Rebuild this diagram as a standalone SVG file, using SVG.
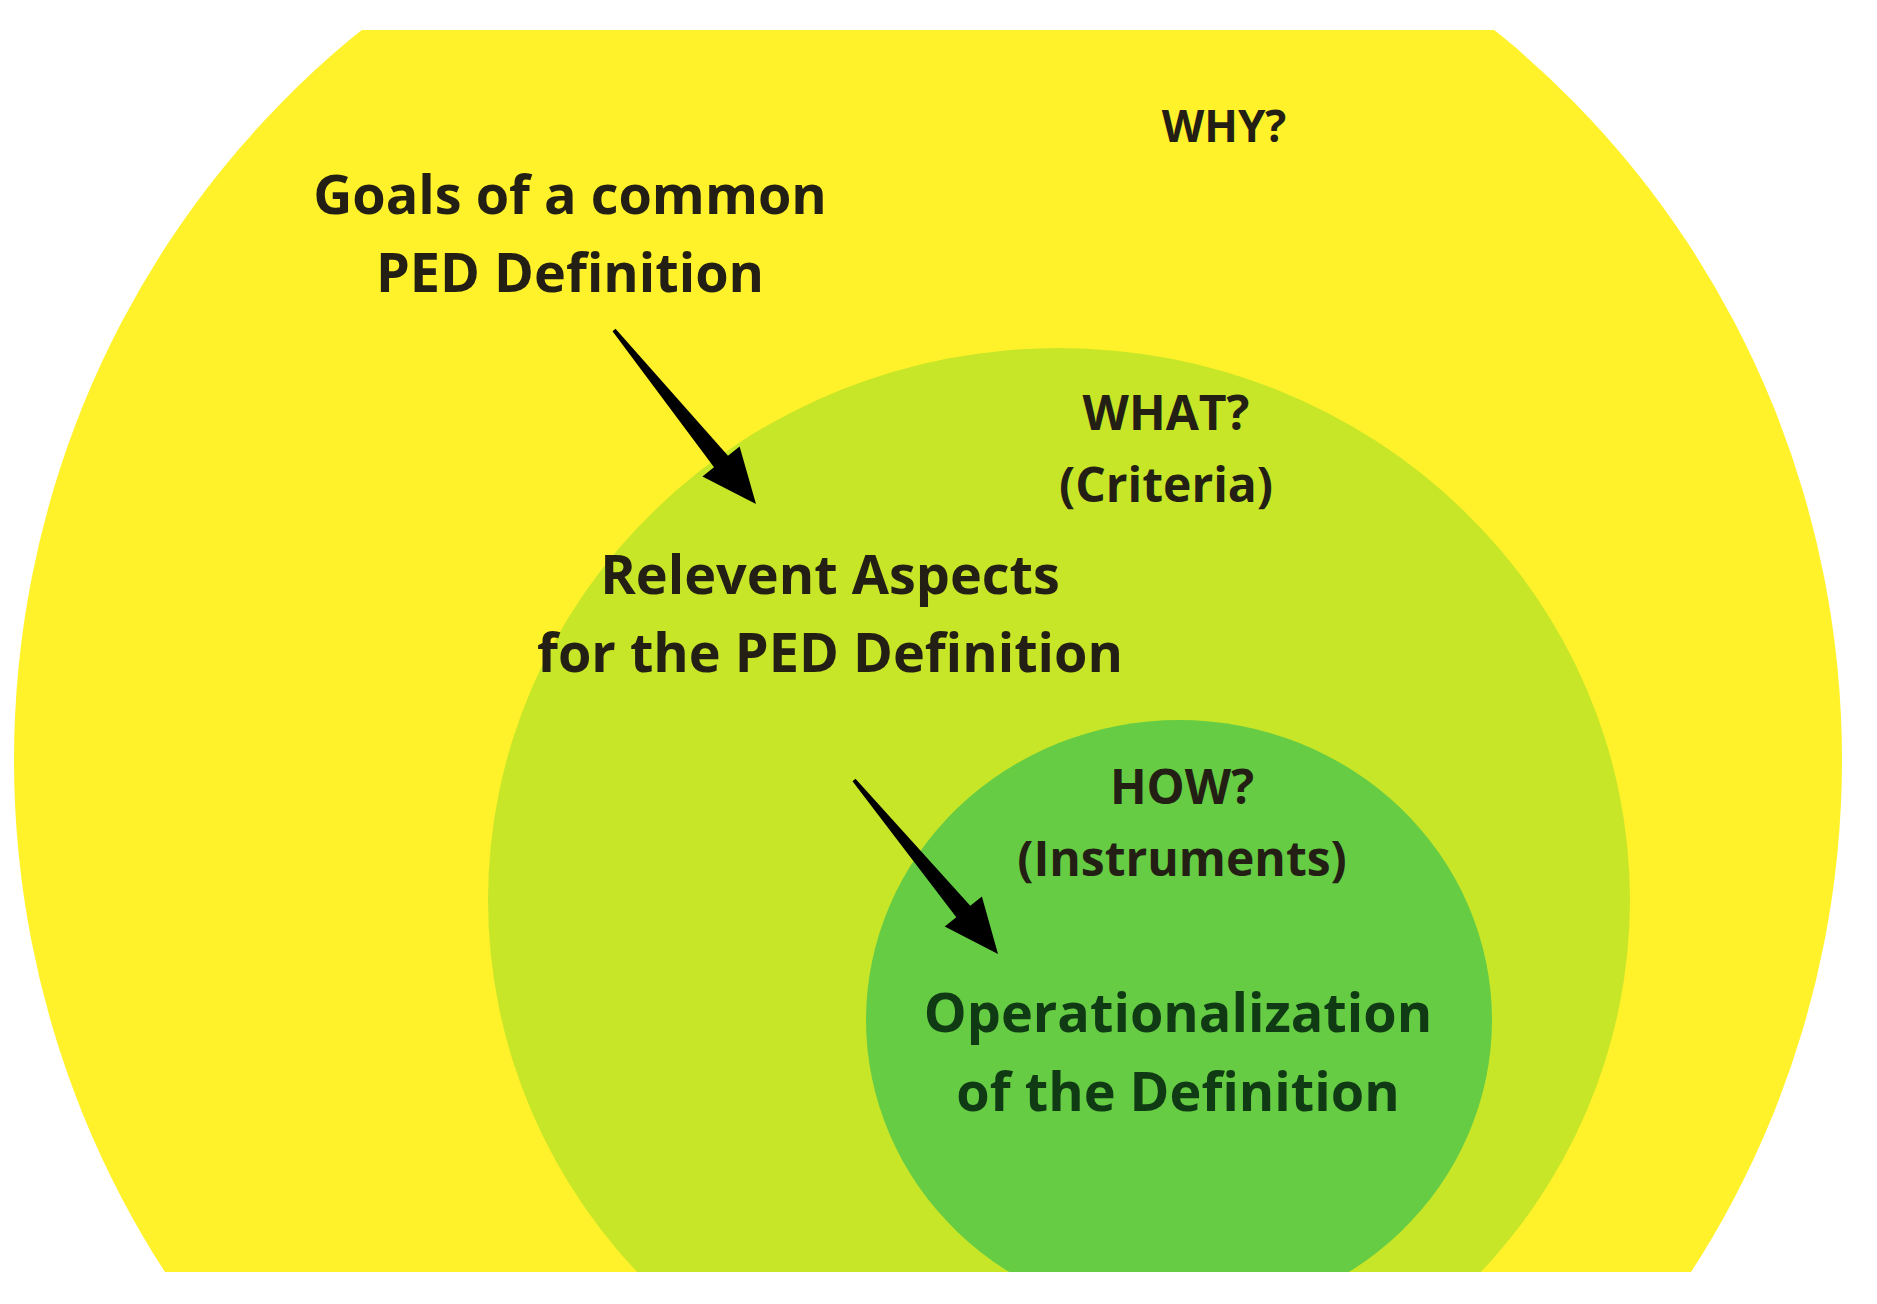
<svg xmlns="http://www.w3.org/2000/svg" width="1877" height="1304" viewBox="0 0 1877 1304">
<style>
text{font-family:"Open Sans","Liberation Sans",sans-serif;font-weight:bold;text-anchor:middle;fill:#231f14}
.g{fill:#0f3a14}
.arr{fill:#000}
</style>
<defs><clipPath id="c"><rect x="0" y="30" width="1872" height="1242"/></clipPath></defs>
<rect width="1877" height="1304" fill="#fff"/>
<g clip-path="url(#c)">
<g id="why"><ellipse cx="928" cy="760" rx="914" ry="930" fill="#fff22a"/>
<text x="1224" y="142" font-size="44">WHY?</text>
<text x="570" y="214" font-size="54">Goals of a common</text>
<text x="570" y="292" font-size="54">PED Definition</text></g>
<g id="what"><ellipse cx="1059" cy="900" rx="571" ry="552" fill="#c8e628"/>
<text x="1166" y="430" font-size="48">WHAT?</text>
<text x="1166" y="502" font-size="48">(Criteria)</text>
<text x="830" y="594" font-size="54">Relevent Aspects</text>
<text x="830" y="672" font-size="54">for the PED Definition</text></g>
<g id="how"><ellipse cx="1179" cy="1020" rx="313" ry="300" fill="#66cc44"/>
<text x="1182" y="804" font-size="48">HOW?</text>
<text x="1182" y="876" font-size="48">(Instruments)</text>
<text class="g" x="1178" y="1032" font-size="54">Operationalization</text>
<text class="g" x="1178" y="1111" font-size="54">of the Definition</text></g>
</g>
<g id="connectors">
<polygon class="arr" points="612.5,331.3 714,467.2 702.4,476.6 756,504 739.6,446.4 728,455.8 615.5,328.7"/>
<polygon class="arr" points="852.5,781.3 956.3,917.2 944.7,926.6 998,954 981.9,896.4 970.3,905.8 855.5,778.7"/>
</g>
</svg>
